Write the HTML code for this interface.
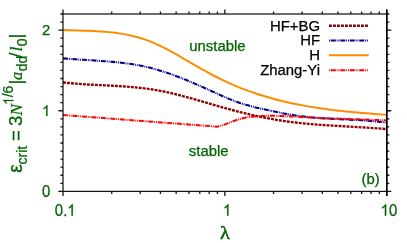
<!DOCTYPE html>
<html><head><meta charset="utf-8"><title>plot</title>
<style>html,body{margin:0;padding:0;background:#fff;width:407px;height:243px;overflow:hidden}</style>
</head><body>
<svg width="407" height="243" viewBox="0 0 407 243" style="position:absolute;left:0;top:0;will-change:transform;font-family:'Liberation Sans',sans-serif">
<rect width="407" height="243" fill="#fff"/>
<g stroke-linecap="butt">
<g fill="none" stroke-linejoin="round">
<path d="M63.00,82.46 C64.38,82.60 68.53,83.03 71.30,83.28 C74.07,83.52 76.83,83.73 79.60,83.93 C82.37,84.13 85.13,84.30 87.90,84.46 C90.67,84.62 93.43,84.77 96.20,84.91 C98.97,85.06 101.73,85.19 104.50,85.33 C107.27,85.48 110.03,85.61 112.80,85.77 C115.57,85.93 118.33,86.08 121.10,86.27 C123.87,86.45 126.63,86.65 129.40,86.87 C132.17,87.10 134.93,87.35 137.70,87.63 C140.47,87.92 143.23,88.23 146.00,88.59 C148.77,88.95 151.53,89.34 154.30,89.79 C157.07,90.23 159.83,90.73 162.60,91.27 C165.37,91.82 168.13,92.42 170.90,93.06 C173.67,93.69 176.43,94.38 179.20,95.08 C181.97,95.79 184.73,96.54 187.50,97.29 C190.27,98.05 193.03,98.84 195.80,99.64 C198.57,100.43 201.33,101.24 204.10,102.05 C206.87,102.86 209.63,103.68 212.40,104.48 C215.17,105.29 217.93,106.10 220.70,106.88 C223.47,107.66 226.23,108.44 229.00,109.19 C231.77,109.94 234.53,110.68 237.30,111.39 C240.07,112.10 242.83,112.80 245.60,113.47 C248.37,114.14 251.13,114.79 253.90,115.41 C256.67,116.03 259.43,116.63 262.20,117.20 C264.97,117.76 267.73,118.30 270.50,118.81 C273.27,119.32 276.03,119.79 278.80,120.24 C281.57,120.68 284.33,121.09 287.10,121.47 C289.87,121.85 292.63,122.19 295.40,122.52 C298.17,122.84 300.93,123.13 303.70,123.41 C306.47,123.68 309.23,123.93 312.00,124.17 C314.77,124.40 317.53,124.62 320.30,124.82 C323.07,125.03 325.83,125.21 328.60,125.39 C331.37,125.57 334.13,125.74 336.90,125.90 C339.67,126.07 342.43,126.22 345.20,126.38 C347.97,126.54 350.73,126.69 353.50,126.85 C356.27,127.00 359.03,127.16 361.80,127.33 C364.57,127.49 367.33,127.66 370.10,127.84 C372.87,128.03 375.63,128.22 378.40,128.42 C381.17,128.63 385.32,128.98 386.70,129.09" stroke="#8b0000" stroke-width="2.35" stroke-dasharray="2.9 1.1"/>
<path d="M63.00,58.37 C64.38,58.48 68.53,58.83 71.30,59.03 C74.07,59.23 76.83,59.41 79.60,59.59 C82.37,59.76 85.13,59.92 87.90,60.09 C90.67,60.26 93.43,60.43 96.20,60.61 C98.97,60.79 101.73,60.97 104.50,61.18 C107.27,61.39 110.03,61.61 112.80,61.87 C115.57,62.12 118.33,62.40 121.10,62.72 C123.87,63.04 126.63,63.40 129.40,63.80 C132.17,64.21 134.93,64.65 137.70,65.16 C140.47,65.66 143.23,66.22 146.00,66.84 C148.77,67.47 151.53,68.16 154.30,68.91 C157.07,69.67 159.83,70.49 162.60,71.37 C165.37,72.24 168.13,73.18 170.90,74.15 C173.67,75.13 176.43,76.17 179.20,77.23 C181.97,78.30 184.73,79.42 187.50,80.56 C190.27,81.70 193.03,82.88 195.80,84.07 C198.57,85.27 201.33,86.50 204.10,87.74 C206.87,88.98 209.63,90.25 212.40,91.50 C215.17,92.76 217.93,94.04 220.70,95.27 C223.47,96.50 226.23,97.73 229.00,98.86 C231.77,100.00 234.53,101.10 237.30,102.08 C240.07,103.07 242.83,103.96 245.60,104.78 C248.37,105.59 251.13,106.30 253.90,106.99 C256.67,107.68 259.43,108.28 262.20,108.90 C264.97,109.51 267.73,110.09 270.50,110.67 C273.27,111.26 276.03,111.85 278.80,112.41 C281.57,112.97 284.33,113.53 287.10,114.03 C289.87,114.53 292.63,115.00 295.40,115.42 C298.17,115.84 300.93,116.22 303.70,116.55 C306.47,116.89 309.23,117.19 312.00,117.45 C314.77,117.71 317.53,117.93 320.30,118.13 C323.07,118.33 325.83,118.50 328.60,118.65 C331.37,118.81 334.13,118.95 336.90,119.08 C339.67,119.21 342.43,119.33 345.20,119.46 C347.97,119.59 350.73,119.71 353.50,119.86 C356.27,120.00 359.03,120.15 361.80,120.32 C364.57,120.50 367.33,120.69 370.10,120.91 C372.87,121.14 375.63,121.39 378.40,121.69 C381.17,121.99 385.32,122.54 386.70,122.71" stroke="#00008b" stroke-width="2.05" stroke-dasharray="5 .9 .9 .9 .9 .9"/>
<path d="M63.00,30.11 C64.38,30.15 68.53,30.28 71.30,30.35 C74.07,30.42 76.83,30.48 79.60,30.55 C82.37,30.62 85.13,30.69 87.90,30.79 C90.67,30.88 93.43,30.99 96.20,31.14 C98.97,31.29 101.73,31.45 104.50,31.68 C107.27,31.90 110.03,32.16 112.80,32.48 C115.57,32.81 118.33,33.18 121.10,33.63 C123.87,34.08 126.63,34.59 129.40,35.20 C132.17,35.80 134.93,36.48 137.70,37.26 C140.47,38.04 143.23,38.90 146.00,39.89 C148.77,40.87 151.53,41.97 154.30,43.16 C157.07,44.35 159.83,45.66 162.60,47.03 C165.37,48.40 168.13,49.87 170.90,51.36 C173.67,52.86 176.43,54.44 179.20,56.02 C181.97,57.60 184.73,59.23 187.50,60.85 C190.27,62.46 193.03,64.11 195.80,65.71 C198.57,67.32 201.33,68.93 204.10,70.48 C206.87,72.02 209.63,73.54 212.40,75.00 C215.17,76.45 217.93,77.84 220.70,79.18 C223.47,80.52 226.23,81.81 229.00,83.04 C231.77,84.28 234.53,85.46 237.30,86.59 C240.07,87.73 242.83,88.81 245.60,89.85 C248.37,90.88 251.13,91.87 253.90,92.82 C256.67,93.77 259.43,94.67 262.20,95.53 C264.97,96.39 267.73,97.21 270.50,97.99 C273.27,98.77 276.03,99.51 278.80,100.22 C281.57,100.92 284.33,101.59 287.10,102.23 C289.87,102.86 292.63,103.46 295.40,104.03 C298.17,104.60 300.93,105.13 303.70,105.64 C306.47,106.15 309.23,106.63 312.00,107.08 C314.77,107.53 317.53,107.96 320.30,108.36 C323.07,108.77 325.83,109.14 328.60,109.50 C331.37,109.86 334.13,110.19 336.90,110.51 C339.67,110.83 342.43,111.12 345.20,111.41 C347.97,111.69 350.73,111.95 353.50,112.21 C356.27,112.46 359.03,112.69 361.80,112.92 C364.57,113.15 367.33,113.36 370.10,113.57 C372.87,113.78 375.63,113.97 378.40,114.17 C381.17,114.36 385.32,114.63 386.70,114.72" stroke="#ff8c00" stroke-width="2.0"/>
<path d="M63.00,115.00 L217.00,126.65 L217.00,126.73 C217.98,126.47 220.90,125.80 222.85,125.18 C224.80,124.56 226.75,123.75 228.70,123.02 C230.65,122.28 232.60,121.44 234.56,120.75 C236.51,120.05 238.46,119.38 240.41,118.84 C242.36,118.31 244.31,117.88 246.26,117.52 C248.21,117.16 250.16,116.90 252.11,116.68 C254.06,116.46 256.01,116.31 257.96,116.19 C259.91,116.06 261.86,115.98 263.81,115.92 C265.76,115.86 267.71,115.83 269.67,115.82 C271.62,115.81 273.57,115.83 275.52,115.86 C277.47,115.89 279.42,115.95 281.37,116.01 C283.32,116.08 285.27,116.17 287.22,116.26 C289.17,116.35 291.12,116.46 293.07,116.56 C295.02,116.67 296.97,116.79 298.92,116.90 C300.87,117.01 302.83,117.13 304.78,117.24 C306.73,117.36 308.68,117.47 310.63,117.57 C312.58,117.67 314.53,117.76 316.48,117.85 C318.43,117.94 320.38,118.02 322.33,118.10 C324.28,118.18 326.23,118.25 328.18,118.32 C330.13,118.39 332.08,118.46 334.03,118.53 C335.99,118.59 337.94,118.65 339.89,118.71 C341.84,118.77 343.79,118.83 345.74,118.89 C347.69,118.95 349.64,119.01 351.59,119.07 C353.54,119.13 355.49,119.19 357.44,119.26 C359.39,119.32 361.34,119.38 363.29,119.45 C365.24,119.52 367.19,119.59 369.14,119.67 C371.10,119.75 373.05,119.83 375.00,119.92 C376.95,120.00 378.90,120.09 380.85,120.19 C382.80,120.29 385.72,120.46 386.70,120.51" stroke="#ff0000" stroke-width="2.0" stroke-dasharray="5 .9 .9 .9 .9 .9"/>
</g>
<path d="M329,25.75 L368.7,25.75" stroke="#8b0000" stroke-width="2.35" stroke-dasharray="2.9 1.1" fill="none"/>
<text x="320.0" y="30.50" font-size="14.9" text-anchor="end" fill="#000" stroke="#000" stroke-width="0.25">HF+BG</text>
<path d="M329,40.55 L368.7,40.55" stroke="#00008b" stroke-width="2.05" stroke-dasharray="5 .9 .9 .9 .9 .9" stroke-dashoffset="7.7" fill="none"/>
<text x="320.0" y="45.30" font-size="14.9" text-anchor="end" fill="#000" stroke="#000" stroke-width="0.25">HF</text>
<path d="M329,55.35 L368.7,55.35" stroke="#ff8c00" stroke-width="2.0" fill="none"/>
<text x="320.0" y="60.10" font-size="14.9" text-anchor="end" fill="#000" stroke="#000" stroke-width="0.25">H</text>
<path d="M329,70.15 L368.7,70.15" stroke="#ff0000" stroke-width="2.0" stroke-dasharray="5 .9 .9 .9 .9 .9" stroke-dashoffset="7.7" fill="none"/>
<text x="320.0" y="74.90" font-size="14.9" text-anchor="end" fill="#000" stroke="#000" stroke-width="0.25">Zhang-Yi</text>
<g stroke="#151515" stroke-width="1.25" fill="none">
<rect x="63.0" y="14.00" width="323.70" height="177.40"/>
<path d="M63.00,191.4 v4.6 M63.00,14.00 v-4.6 M111.72,191.4 v2.6 M111.72,14.00 v-2.6 M140.22,191.4 v2.6 M140.22,14.00 v-2.6 M160.44,191.4 v2.6 M160.44,14.00 v-2.6 M176.13,191.4 v2.6 M176.13,14.00 v-2.6 M188.94,191.4 v2.6 M188.94,14.00 v-2.6 M199.78,191.4 v2.6 M199.78,14.00 v-2.6 M209.17,191.4 v2.6 M209.17,14.00 v-2.6 M217.44,191.4 v2.6 M217.44,14.00 v-2.6 M224.85,191.4 v4.6 M224.85,14.00 v-4.6 M273.57,191.4 v2.6 M273.57,14.00 v-2.6 M302.07,191.4 v2.6 M302.07,14.00 v-2.6 M322.29,191.4 v2.6 M322.29,14.00 v-2.6 M337.98,191.4 v2.6 M337.98,14.00 v-2.6 M350.79,191.4 v2.6 M350.79,14.00 v-2.6 M361.63,191.4 v2.6 M361.63,14.00 v-2.6 M371.02,191.4 v2.6 M371.02,14.00 v-2.6 M379.29,191.4 v2.6 M379.29,14.00 v-2.6 M386.70,191.4 v4.6 M386.70,14.00 v-4.6 M63.0,191.40 h-4.6 M386.7,191.40 h4.6 M63.0,183.34 h-2.6 M386.7,183.34 h2.6 M63.0,175.27 h-2.6 M386.7,175.27 h2.6 M63.0,167.21 h-2.6 M386.7,167.21 h2.6 M63.0,159.15 h-2.6 M386.7,159.15 h2.6 M63.0,151.08 h-2.6 M386.7,151.08 h2.6 M63.0,143.02 h-2.6 M386.7,143.02 h2.6 M63.0,134.95 h-2.6 M386.7,134.95 h2.6 M63.0,126.89 h-2.6 M386.7,126.89 h2.6 M63.0,118.83 h-2.6 M386.7,118.83 h2.6 M63.0,110.76 h-4.6 M386.7,110.76 h4.6 M63.0,102.70 h-2.6 M386.7,102.70 h2.6 M63.0,94.64 h-2.6 M386.7,94.64 h2.6 M63.0,86.57 h-2.6 M386.7,86.57 h2.6 M63.0,78.51 h-2.6 M386.7,78.51 h2.6 M63.0,70.45 h-2.6 M386.7,70.45 h2.6 M63.0,62.38 h-2.6 M386.7,62.38 h2.6 M63.0,54.32 h-2.6 M386.7,54.32 h2.6 M63.0,46.25 h-2.6 M386.7,46.25 h2.6 M63.0,38.19 h-2.6 M386.7,38.19 h2.6 M63.0,30.13 h-4.6 M386.7,30.13 h4.6 M63.0,22.06 h-2.6 M386.7,22.06 h2.6 M63.0,14.00 h-2.6 M386.7,14.00 h2.6" stroke-width="1.3"/>
<path d="M386.8,9.40 V196.00" stroke="#000" stroke-width="1.55"/>
</g>
<g font-size="14.9" fill="#006400" stroke="#006400" stroke-width="0.25">
<g transform="translate(0,196.70) scale(1,1.09) translate(0,-196.70)"><text x="41.92" y="196.70" font-size="14.9" fill="#006400" stroke="#006400" stroke-width="0.25">0</text></g>
<path d="M763 0H583V1147Q518 1085 412.5 1023T223 930V1104Q373 1174.5 485 1275T644 1470H763Z" transform="translate(41.92,115.96) scale(0.00728,-0.00728)" fill="#006400" stroke="#006400" stroke-width="34.4"/>
<text x="41.92" y="35.33" font-size="14.9" fill="#006400" stroke="#006400" stroke-width="0.25">2</text>
<g transform="translate(0,215.65) scale(1,1.07) translate(0,-215.65)"><text x="54.84" y="215.65" font-size="14.9" fill="#006400" stroke="#006400" stroke-width="0.25">0</text><text x="63.13" y="215.65" font-size="14.9" fill="#006400" stroke="#006400" stroke-width="0.25">.</text><path d="M763 0H583V1147Q518 1085 412.5 1023T223 930V1104Q373 1174.5 485 1275T644 1470H763Z" transform="translate(67.27,215.65) scale(0.00728,-0.00728)" fill="#006400" stroke="#006400" stroke-width="34.4"/></g>
<g transform="translate(0,215.65) scale(1,1.07) translate(0,-215.65)"><path d="M763 0H583V1147Q518 1085 412.5 1023T223 930V1104Q373 1174.5 485 1275T644 1470H763Z" transform="translate(222.91,215.65) scale(0.00728,-0.00728)" fill="#006400" stroke="#006400" stroke-width="34.4"/></g>
<g transform="translate(0,215.65) scale(1,1.07) translate(0,-215.65)"><path d="M763 0H583V1147Q518 1085 412.5 1023T223 930V1104Q373 1174.5 485 1275T644 1470H763Z" transform="translate(380.62,215.65) scale(0.00728,-0.00728)" fill="#006400" stroke="#006400" stroke-width="34.4"/><text x="388.90" y="215.65" font-size="14.9" fill="#006400" stroke="#006400" stroke-width="0.25">0</text></g>
<text x="189.3" y="51.1">unstable</text>
<text x="188.8" y="156.3">stable</text>
<text x="361.5" y="184.1">(b)</text>
</g>
<g transform="translate(225.0,239.0) scale(1.08,1)"><text x="0" y="0" font-size="18.8" text-anchor="middle" fill="#006400" stroke="#006400" stroke-width="0.5" font-family="'Liberation Serif',serif">λ</text></g>
<g transform="translate(22.2,0) rotate(-90)" fill="#006400" stroke="#006400" stroke-width="0.25">
<text x="-172.85" y="0" font-size="19.4" font-family="'Liberation Sans',sans-serif">ε</text>
<text x="-164.50" y="4.8" font-size="14" font-family="'Liberation Sans',sans-serif">crit</text>
<text x="-141.00" y="0" font-size="18.67" font-family="'Liberation Sans',sans-serif">=</text>
<text x="-125.95" y="0" font-size="18.67" font-family="'Liberation Sans',sans-serif">3</text>
<text x="-115.50" y="0" font-size="17.3" font-family="'Liberation Serif',serif" font-style="italic">N</text>
<path d="M763 0H583V1147Q518 1085 412.5 1023T223 930V1104Q373 1174.5 485 1275T644 1470H763Z" transform="translate(-105.10,-8.90) scale(0.00684,-0.00684)" fill="#006400" stroke="#006400" stroke-width="36.6"/><text x="-97.32" y="-8.90" font-size="14" fill="#006400" stroke="#006400" stroke-width="0.25">/</text><text x="-93.42" y="-8.90" font-size="14" fill="#006400" stroke="#006400" stroke-width="0.25">6</text>
<text x="-84.50" y="0" font-size="18.67" font-family="'Liberation Sans',sans-serif">|</text>
<text x="-80.10" y="0" font-size="16.5" font-family="'Liberation Serif',serif" font-style="italic">a</text>
<text x="-71.30" y="4.8" font-size="14" font-family="'Liberation Sans',sans-serif">dd</text>
<text x="-57.80" y="0" font-size="18.67" font-family="'Liberation Sans',sans-serif">/</text>
<text x="-51.40" y="0" font-size="17.5" font-family="'Liberation Serif',serif" font-style="italic">l</text>
<text x="-46.20" y="4.8" font-size="14" font-family="'Liberation Sans',sans-serif">0</text>
<text x="-38.55" y="0" font-size="18.67" font-family="'Liberation Sans',sans-serif">|</text>
</g>
</g>
</svg>
</body></html>
